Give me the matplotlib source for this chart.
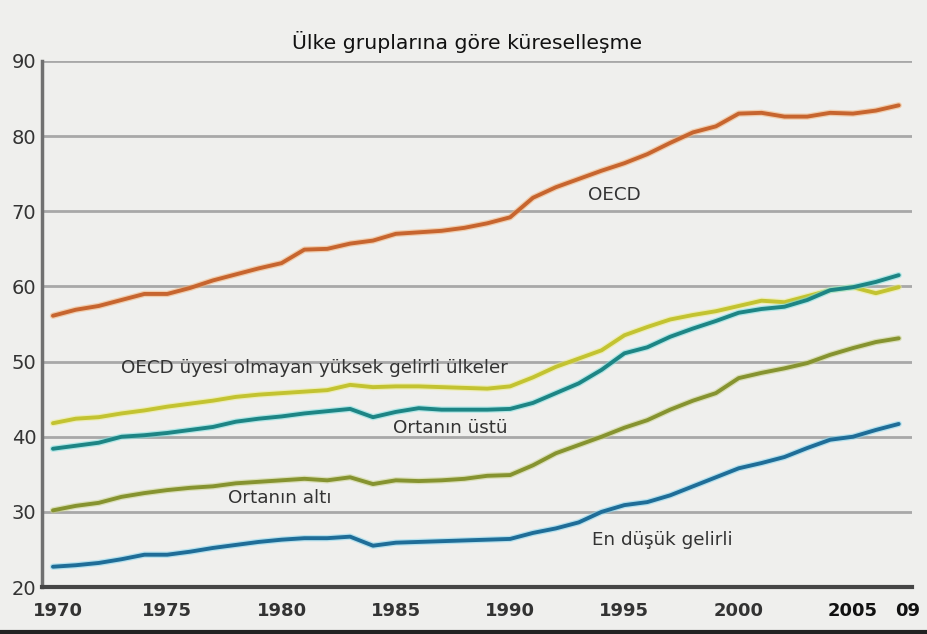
import numpy as np
import matplotlib
matplotlib.use("Agg")
import matplotlib.pyplot as plt
import matplotlib.patheffects as pe
from matplotlib.lines import Line2D

# Daten
years = np.arange(1970, 2008)
oecd = [56.1, 56.9, 57.4, 58.2, 59.0, 59.0, 59.8, 60.8, 61.6, 62.4,
        63.1, 64.9, 65.0, 65.7, 66.1, 67.0, 67.2, 67.4, 67.8, 68.4,
        69.2, 71.8, 73.2, 74.3, 75.4, 76.4, 77.6, 79.1, 80.5, 81.3,
        83.0, 83.1, 82.6, 82.6, 83.1, 83.0, 83.4, 84.1]
non_oecd_high = [41.8, 42.4, 42.6, 43.1, 43.5, 44.0, 44.4, 44.8, 45.3, 45.6,
                 45.8, 46.0, 46.2, 46.9, 46.6, 46.7, 46.7, 46.6, 46.5, 46.4,
                 46.7, 47.9, 49.3, 50.4, 51.5, 53.5, 54.6, 55.6, 56.2, 56.7,
                 57.4, 58.1, 57.9, 58.7, 59.5, 59.9, 59.1, 59.9]
upper_middle = [38.4, 38.8, 39.2, 40.0, 40.2, 40.5, 40.9, 41.3, 42.0, 42.4,
                42.7, 43.1, 43.4, 43.7, 42.6, 43.3, 43.8, 43.6, 43.6, 43.6,
                43.7, 44.5, 45.8, 47.1, 48.9, 51.1, 51.9, 53.3, 54.4, 55.4,
                56.5, 57.0, 57.3, 58.2, 59.5, 59.9, 60.6, 61.5]
lower_middle = [30.2, 30.8, 31.2, 32.0, 32.5, 32.9, 33.2, 33.4, 33.8, 34.0,
                34.2, 34.4, 34.2, 34.6, 33.7, 34.2, 34.1, 34.2, 34.4, 34.8,
                34.9, 36.2, 37.8, 38.9, 40.0, 41.2, 42.2, 43.6, 44.8, 45.8,
                47.8, 48.5, 49.1, 49.8, 50.9, 51.8, 52.6, 53.1]
low_income = [22.7, 22.9, 23.2, 23.7, 24.3, 24.3, 24.7, 25.2, 25.6, 26.0,
              26.3, 26.5, 26.5, 26.7, 25.5, 25.9, 26.0, 26.1, 26.2, 26.3,
              26.4, 27.2, 27.8, 28.6, 30.0, 30.9, 31.3, 32.2, 33.4, 34.6,
              35.8, 36.5, 37.3, 38.5, 39.6, 40.0, 40.9, 41.7]

x_ticks = [1970.2, 1975, 1980, 1985, 1990, 1995, 2000, 2005, 2007.4]
x_labels = ['1970', '1975', '1980', '1985', '1990', '1995', '2000', '2005', '09']
y_ticks = [20, 30, 40, 50, 60, 70, 80, 90]

bg = '#efefed'
fig = plt.figure(figsize=(9.27, 6.34), dpi=100, facecolor=bg)
ax = fig.add_axes([0.0453, 0.0741, 0.9385, 0.8297], facecolor=bg)

series = [
    (oecd, '#c7652f', '#f2b27a'),
    (non_oecd_high, '#c3c331', '#ecec8a'),
    (upper_middle, '#1d8585', '#7fe0e0'),
    (lower_middle, '#869330', '#c9d28a'),
    (low_income, '#1f6d98', '#86d6ee'),
]
for vals, col, halo in series:
    ax.plot(years, vals, color=col, lw=2.8, solid_capstyle='round', zorder=3,
            path_effects=[pe.Stroke(linewidth=4.6, foreground=halo, alpha=0.55), pe.Normal()])

ax.set_xlim(1969.52, 2007.58)
ax.set_ylim(20, 90)
ax.set_yticks(y_ticks)
ax.set_xticks(x_ticks)
ax.set_xticklabels(x_labels)
ax.grid(axis='y', color='#a8a8a8', lw=2)
ax.set_axisbelow(True)
for s in ['top', 'right']:
    ax.spines[s].set_visible(False)
ax.spines['left'].set_color('#707070')
ax.spines['left'].set_linewidth(2.5)
ax.spines['bottom'].set_color('#454545')
ax.spines['bottom'].set_linewidth(3)
ax.tick_params(length=0)
ax.tick_params(axis='y', pad=4, labelsize=14, labelcolor='#333333')
ax.tick_params(axis='x', pad=11, labelsize=13, labelcolor='#333333')
for lab in ax.get_xticklabels():
    lab.set_fontweight('bold')
    if lab.get_text() in ('2005', '09'):
        lab.set_color('#111111')

fig.text(467 / 927, 1 - 42 / 634, 'Ülke gruplarına göre küreselleşme',
         ha='center', va='center', fontsize=14.7, color='#111111')

tc = '#333333'
fs = 13.2
ax.text(1994.54, 72.17, 'OECD', ha='center', va='center', fontsize=fs, color=tc)
ax.text(1981.44, 49.1, 'OECD üyesi olmayan yüksek gelirli ülkeler', ha='center', va='center',
        fontsize=fs, color=tc)
ax.text(1987.39, 41.16, 'Ortanın üstü', ha='center', va='center', fontsize=fs, color=tc)
ax.text(1979.93, 31.84, 'Ortanın altı', ha='center', va='center', fontsize=fs, color=tc)
ax.text(1996.64, 26.25, 'En düşük gelirli', ha='center', va='center', fontsize=fs, color=tc)

fig.add_artist(Line2D([0, 1], [0.003, 0.003], color='#222222', lw=3))

fig.savefig('out.png', dpi=100, facecolor=bg)
